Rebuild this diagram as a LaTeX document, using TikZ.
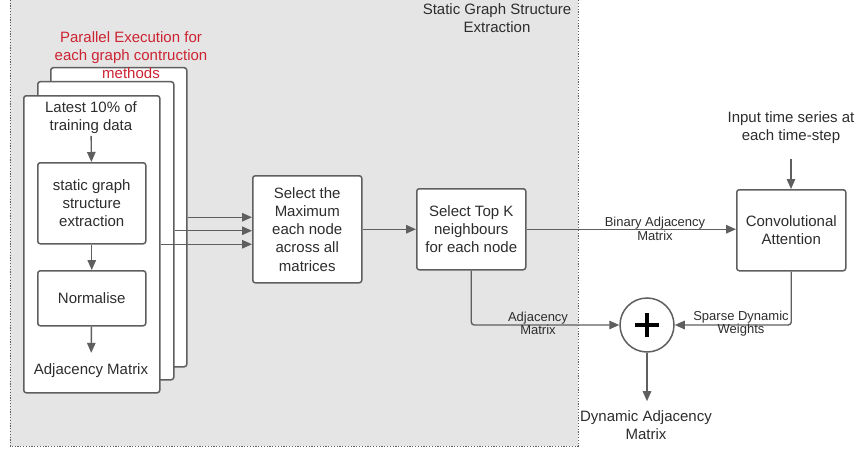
\documentclass[tikz,border=0pt]{standalone}
\usepackage{fontspec}
\setmainfont{Liberation Sans}
\usetikzlibrary{arrows.meta,calc}
\definecolor{ln}{RGB}{95,95,95}
\definecolor{bg}{RGB}{229,229,229}
\definecolor{txt}{RGB}{45,45,45}
\definecolor{redt}{RGB}{205,35,50}
\begin{document}
\begin{tikzpicture}[x=1pt,y=-1pt,
  box/.style={draw=ln, line width=1.5pt, fill=white, rounded corners=2.5pt, inner sep=0pt, anchor=north west, align=center, text=txt, font=\fontsize{15}{18.2}\selectfont},
  lbl/.style={font=\fontsize{15}{18.2}\selectfont, text=txt, align=center, inner sep=0pt},
  sm/.style={font=\fontsize{13}{13.5}\selectfont, text=txt, align=center, inner sep=0pt},
  arr/.style={draw=ln, line width=1.4pt, -{Triangle[length=10pt,width=8.5pt]}},
  ]
\useasboundingbox (0,0) rectangle (857,452);
\fill[bg] (10,-3) rectangle (578,446);
\draw[ln, line width=1pt, dash pattern=on 1.2pt off 1.6pt] (10,-3) rectangle (578,446);
\node[lbl] (title) at (497,18) {Static Graph Structure\\Extraction};

% stacked boxes
\node[box, minimum width=136pt, minimum height=299pt] (back) at (50,67) {};
\node[lbl, text=redt] (red) at (131,55) {Parallel Execution for\\each graph contruction\\methods};
\node[box, minimum width=136pt, minimum height=298pt] (mid) at (37,81) {};
\node[box, minimum width=136pt, minimum height=297pt] (front) at (23,95) {};

\node[lbl] (latest) at (91,117.5) {Latest 10\% of\\training data};
\node[box, minimum width=108pt, minimum height=81pt] (static) at (37,162) {static graph\\structure\\extraction};
\node[box, minimum width=108pt, minimum height=55pt] (norm) at (37,270) {Normalise};
\node[lbl] (adjm) at (91,371) {Adjacency Matrix};

\draw[arr, shorten <=2pt] (latest) -- (static);
\draw[arr] (static) -- (norm);
\draw[arr, shorten >=11pt] (norm) -- (adjm);

% middle boxes
\node[box, minimum width=109pt, minimum height=107pt] (max) at (252,175) {Select the\\Maximum\\each node\\across all\\matrices};
\node[box, minimum width=109pt, minimum height=81pt] (topk) at (416,188) {Select Top K\\neighbours\\for each node};
\node[box, minimum width=109pt, minimum height=81pt] (conv) at (736,189) {Convolutional\\Attention};

\draw[arr] (back.east) -- (back.east -| max.west);
\draw[arr] (mid.east) -- (mid.east -| max.west);
\draw[arr] (front.east) -- (front.east -| max.west);
\draw[arr] (max) -- (topk);
\draw[arr] (topk) -- (topk -| conv.west);
\node[sm] (bam) at (655,229) {Binary Adjacency\\Matrix};

\node[lbl] (input) at (791,128) {Input time series at\\each time-step};
\draw[arr, shorten <=15pt] (input) -- (input |- conv.north);

% plus
\node[circle, draw=ln, line width=1.5pt, fill=white, minimum size=54pt, inner sep=0pt] (plus) at (647,325) {};
\draw[black, line width=4.2pt] ([xshift=-12pt]plus.center) -- ([xshift=12pt]plus.center);
\draw[black, line width=4.2pt] ([yshift=-12pt]plus.center) -- ([yshift=12pt]plus.center);

\draw[arr, rounded corners=3pt] (topk.south) |- (plus.west);
\node[sm] (am) at (538,323.5) {Adjacency\\Matrix};
\draw[arr, rounded corners=3pt] (conv.south) |- (plus.east);
\node[sm] (sdw) at (741,323.5) {Sparse Dynamic\\Weights};

\node[lbl] (dyn) at (646,425) {Dynamic Adjacency\\Matrix};
\draw[arr, shorten >=9pt] (plus) -- (plus |- dyn.north);
\end{tikzpicture}
\end{document}
